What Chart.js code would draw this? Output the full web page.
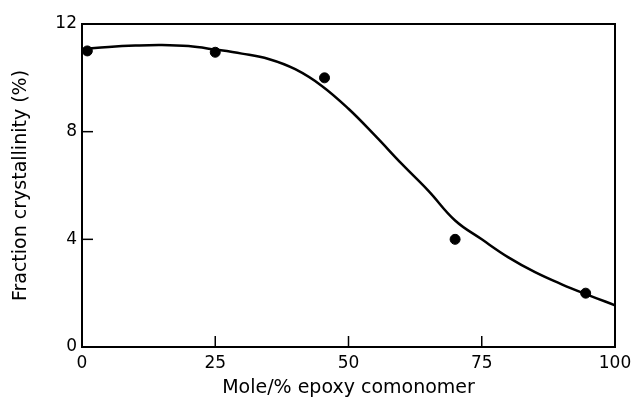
<!DOCTYPE html>
<html>
<head>
<meta charset="utf-8">
<script src="https://cdn.jsdelivr.net/npm/chart.js@4/dist/chart.umd.min.js"></script>
<style>
  html, body { margin: 0; padding: 0; background: #fff; }
  #wrap { width: 634px; height: 399px; }
</style>
</head>
<body>
<div id="wrap"><canvas id="c"></canvas></div>
<script>
// measured points
var pointX = [1, 25, 45.5, 70, 94.5];
var pointY = [11.0, 10.95, 10.0, 4.0, 2.0];

// hand-drawn fitted curve
var curveX = [0, 5, 10, 15, 20, 25, 30, 35, 40, 45, 50, 55, 60, 65, 70, 75, 80, 85, 90, 95, 100];
var curveY = [11.07, 11.15, 11.2, 11.22, 11.18, 11.05, 10.9, 10.7, 10.32, 9.7, 8.85, 7.85, 6.8, 5.8, 4.7, 4.0, 3.33, 2.78, 2.33, 1.93, 1.55];

var xTicks = [0, 25, 50, 75, 100];
var yTicks = [0, 4, 8, 12];

var fontFam = "'DejaVu Sans', sans-serif";

// box round the plot and the short inward tick marks
const frameTicks = {
    id: 'frameTicks',
    afterDraw: function(chart) {
        var ctx = chart.ctx, a = chart.chartArea;
        var xs = chart.scales.x, ys = chart.scales.y;
        ctx.save();
        ctx.strokeStyle = '#000';
        ctx.lineWidth = 2;
        ctx.strokeRect(a.left, a.top, a.right - a.left, a.bottom - a.top);
        ctx.lineWidth = 1.5;
        xTicks.slice(1, -1).forEach(function(v) {
            var px = xs.getPixelForValue(v);
            ctx.beginPath();
            ctx.moveTo(px, a.bottom);
            ctx.lineTo(px, a.bottom - 11);
            ctx.stroke();
        });
        yTicks.slice(1, -1).forEach(function(v) {
            var py = ys.getPixelForValue(v);
            ctx.beginPath();
            ctx.moveTo(a.left, py);
            ctx.lineTo(a.left + 11, py);
            ctx.stroke();
        });
        ctx.restore();
    }
};

new Chart(document.getElementById('c'), {
    type: 'scatter',
    data: {
        datasets: [{
            type: 'line',
            data: curveX.map(function(x, i) { return {x: x, y: curveY[i]}; }),
            borderColor: '#000',
            borderWidth: 2.5,
            pointRadius: 0,
            tension: 0.4,
            fill: false
        }, {
            data: pointX.map(function(x, i) { return {x: x, y: pointY[i]}; }),
            backgroundColor: '#000',
            borderColor: '#000',
            pointRadius: 5
        }]
    },
    options: {
        responsive: true,
        maintainAspectRatio: false,
        animation: false,
        layout: { padding: { top: 24, right: 19, left: 0, bottom: 0 } },
        plugins: { legend: { display: false }, tooltip: { enabled: false } },
        scales: {
            x: {
                type: 'linear',
                min: 0, max: 100,
                afterBuildTicks: function(s) { s.ticks = xTicks.map(function(v) { return {value: v}; }); },
                afterFit: function(s) { s.height = 52; s.paddingLeft = 0; s.paddingRight = 0; },
                grid: { display: false, drawTicks: false },
                border: { display: false },
                ticks: { color: '#000', padding: 6, font: { family: fontFam, size: 17 } },
                title: {
                    display: true, text: 'Mole/% epoxy comonomer', color: '#000',
                    font: { family: fontFam, size: 19 }, padding: { top: 2, bottom: 0 }
                }
            },
            y: {
                min: 0, max: 12,
                afterBuildTicks: function(s) { s.ticks = yTicks.map(function(v) { return {value: v}; }); },
                afterFit: function(s) { s.width = 82; s.paddingTop = 0; s.paddingBottom = 0; },
                grid: { display: false, drawTicks: false },
                border: { display: false },
                ticks: { color: '#000', padding: 5, font: { family: fontFam, size: 17 } },
                title: {
                    display: true, text: 'Fraction crystallinity (%)', color: '#000',
                    font: { family: fontFam, size: 19 }, padding: { top: 10, bottom: 0 }
                }
            }
        }
    },
    plugins: [frameTicks]
});
</script>
</body>
</html>
